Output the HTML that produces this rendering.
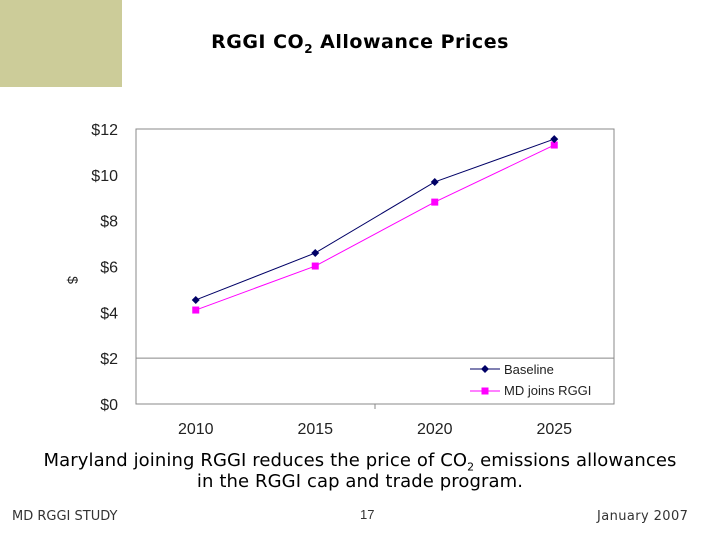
<!DOCTYPE html>
<html><head><meta charset="utf-8"><style>
body{margin:0;width:720px;height:540px;background:#fff;position:relative;overflow:hidden;font-family:"Liberation Sans","DejaVu Sans",sans-serif}
.t{position:absolute;white-space:nowrap}
</style></head><body>
<div style="position:absolute;left:0;top:0;width:122px;height:87px;background:#cccc99"></div>
<div class="t" style="left:0;width:720px;text-align:center;top:31px;font-size:19px;font-weight:bold;font-family:'DejaVu Sans',sans-serif;letter-spacing:0.5px">RGGI CO<sub style="font-size:12px">2</sub> Allowance Prices</div>
<svg id="chart" width="720" height="540" style="position:absolute;left:0;top:0"></svg>
<div class="t" style="left:0;width:720px;text-align:center;top:450px;font-size:18px;line-height:21px;font-family:'DejaVu Sans',sans-serif;letter-spacing:0.1px">Maryland joining RGGI reduces the price of CO<sub style="font-size:11px;line-height:0">2</sub> emissions allowances<br>in the RGGI cap and trade program.</div>
<div class="t" style="left:12px;top:509px;font-size:13px;color:#333;font-family:'DejaVu Sans',sans-serif">MD RGGI STUDY</div>
<div class="t" style="left:360px;top:507px;font-size:13px;color:#333">17</div>
<div class="t" style="left:597px;top:509px;font-size:13px;color:#333;font-family:'DejaVu Sans',sans-serif;letter-spacing:0.4px">January 2007</div>
<script>
const categories=["2010","2015","2020","2025"];
const baseline=[4.54,6.59,9.69,11.56];
const mdJoins=[4.1,6.02,8.81,11.3];
const yTicks=[0,2,4,6,8,10,12];
const yLabels=["$0","$2","$4","$6","$8","$10","$12"];
const NS="http://www.w3.org/2000/svg";
const svg=document.getElementById('chart');
const L=136,R=614,T=129,B=404;
const x=i=>L+(R-L)*(i+0.5)/categories.length;
const y=v=>B-(B-T)*v/12;
function mk(tag,a){const e=document.createElementNS(NS,tag);for(const k in a)e.setAttribute(k,a[k]);svg.appendChild(e);return e;}
let e=mk('rect',{x:L,y:T,width:R-L,height:B-T,fill:'#fff',stroke:'#888'});


e=mk('line',{x1:L,x2:R,y1:y(2),y2:y(2),stroke:'#888'});


e=mk('line',{x1:375,x2:375,y1:B,y2:B+5,stroke:'#888'});


yTicks.forEach((v,i)=>{
  const t=mk('text',{x:L-18,y:y(v)+6,'text-anchor':'end','font-size':16,fill:'#222'});
  t.textContent=yLabels[i];
  
  
});
categories.forEach((c,i)=>{
  const t=mk('text',{x:x(i),y:434,'text-anchor':'middle','font-size':16,fill:'#222'});
  t.textContent=c;
  
  
});
e=mk('text',{x:0,y:0,'font-size':14,fill:'#222',transform:'translate(68,280) rotate(90)','text-anchor':'middle'});
e.textContent='$';


function series(vals,color,name,marker){
  const p=mk('polyline',{points:vals.map((v,i)=>x(i)+','+y(v)).join(' '),fill:'none',stroke:color,'stroke-width':1});
  
  
  vals.forEach((v,i)=>{
    const m=marker(x(i),y(v),color);
    
    
  });
}
const diamond=(cx,cy,c)=>mk('polygon',{points:`${cx},${cy-4} ${cx+4},${cy} ${cx},${cy+4} ${cx-4},${cy}`,fill:c});
const square=(cx,cy,c)=>mk('rect',{x:cx-3.5,y:cy-3.5,width:7,height:7,fill:c});
series(mdJoins,'#ff00ff','md-joins',square);
series(baseline,'#000066','baseline',diamond);
e=mk('line',{x1:470,x2:500,y1:369,y2:369,stroke:'#000066'});


e=diamond(485,369,'#000066');


e=mk('text',{x:504,y:374,'font-size':13,fill:'#222'});e.textContent='Baseline';


e=mk('line',{x1:470,x2:500,y1:391,y2:391,stroke:'#ff00ff'});


e=square(485,391,'#ff00ff');


e=mk('text',{x:504,y:395,'font-size':13,fill:'#222'});e.textContent='MD joins RGGI';


</script>
</body></html>
